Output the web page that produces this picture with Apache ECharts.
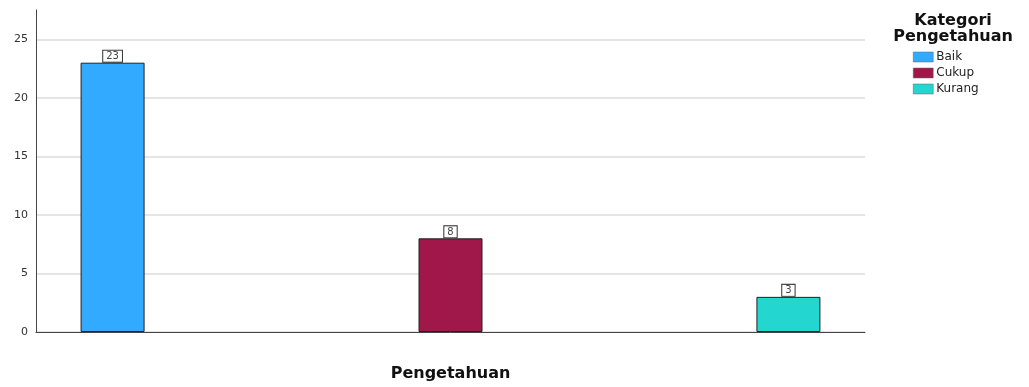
<!DOCTYPE html>
<html>
<head>
<meta charset="utf-8">
<script src="https://cdn.jsdelivr.net/npm/echarts@6/dist/echarts.min.js"></script>
<style>
html,body{margin:0;padding:0;background:#fff;}
#c{width:1029px;height:387px;}
</style>
</head>
<body>
<div id="c"></div>
<script>
const categories = ['Pengetahuan'];
const seriesNames = ['Baik', 'Cukup', 'Kurang'];
const baikValues = [23];
const cukupValues = [8];
const kurangValues = [3];
const seriesColors = ['#31AAFF', '#A0174A', '#23D6D0'];
const legendTitle = 'Kategori\nPengetahuan';

const valuesList = [baikValues, cukupValues, kurangValues];
const chart = echarts.init(document.getElementById('c'));
const font = 'DejaVu Sans';

chart.setOption({
  animation: false,
  textStyle: { fontFamily: font },
  title: {
    text: legendTitle,
    left: 948,
    top: 8,
    textAlign: 'center',
    textStyle: { fontFamily: font, fontWeight: 'bold', fontSize: 16, lineHeight: 16, color: '#111' }
  },
  legend: {
    data: seriesNames,
    orient: 'vertical',
    left: 908,
    top: 46,
    itemWidth: 20,
    itemHeight: 10,
    itemGap: 4,
    icon: 'rect',
    itemStyle: { borderColor: '#666', borderWidth: 0.5 },
    textStyle: { fontFamily: font, fontSize: 12, color: '#222', padding: [0, 0, 0, -2] }
  },
  grid: { left: 36, right: 164, top: 10, bottom: 52, containLabel: false },
  xAxis: {
    type: 'category',
    data: categories,
    axisLine: { show: true, lineStyle: { color: '#444', width: 1 } },
    axisTick: { show: false },
    axisLabel: { show: false },
    name: categories[0],
    nameLocation: 'middle',
    nameGap: 34,
    nameTextStyle: { fontFamily: font, fontWeight: 'bold', fontSize: 16, color: '#111' }
  },
  yAxis: {
    type: 'value',
    min: 0,
    max: 27.5,
    interval: 5,
    axisLine: { show: true, lineStyle: { color: '#444', width: 1 } },
    axisTick: { show: false },
    axisLabel: {
      showMaxLabel: false,
      margin: 8,
      fontFamily: font,
      fontSize: 11,
      color: '#333'
    },
    splitLine: {
      show: true,
      lineStyle: { color: ['#dcdcdc', '#dcdcdc', '#dcdcdc', '#dcdcdc', '#dcdcdc', '#dcdcdc', 'rgba(0,0,0,0)'], width: 1.5 }
    }
  },
  series: seriesNames.map((name, i) => ({
    name: name,
    type: 'bar',
    data: valuesList[i],
    barWidth: 64,
    barGap: '428%',
    itemStyle: { color: seriesColors[i], borderColor: '#222', borderWidth: 1 },
    label: {
      show: true,
      position: 'top',
      distance: 1,
      fontFamily: font,
      fontSize: 10,
      color: '#444',
      backgroundColor: '#fff',
      borderColor: '#333',
      borderWidth: 1,
      padding: [1, 3, 0, 3]
    }
  }))
});
</script>
</body>
</html>
